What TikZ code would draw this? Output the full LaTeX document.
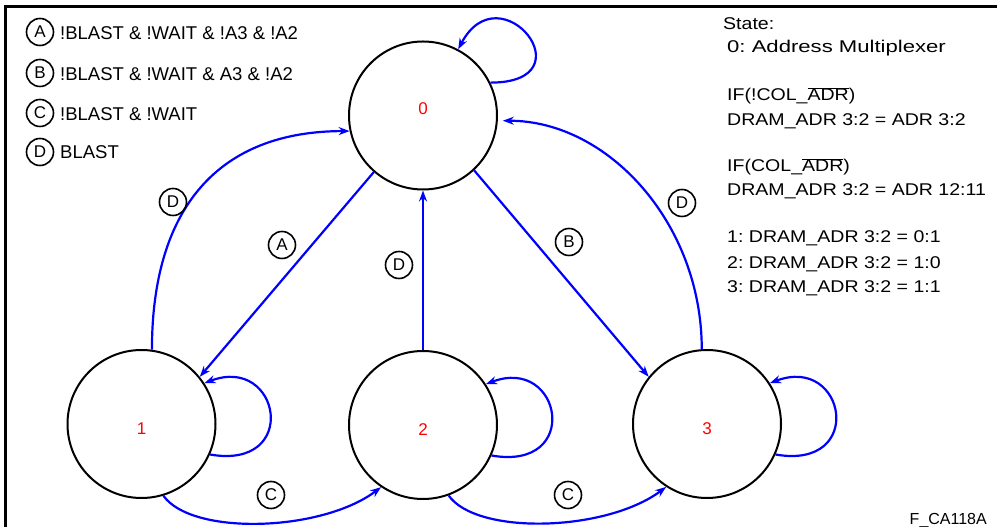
\documentclass[tikz,border=0pt]{standalone}
\usepackage{fontspec}
\setmainfont{Liberation Sans}
\newfontfamily\notefont[FakeStretch=1.15]{Liberation Sans}
\newfontfamily\notefontwide[FakeStretch=1.3]{Liberation Sans}
\usetikzlibrary{arrows.meta}
\definecolor{pureblue}{RGB}{0,0,255}
\definecolor{purered}{RGB}{255,0,0}
\newcommand{\fsz}[1]{\fontsize{#1}{#1}\selectfont}
\frenchspacing
\tikzset{
  statenode/.style={circle, draw=black, line width=2pt, minimum size=148pt, inner sep=0pt, text=purered, font=\fsz{17}, text height=21pt, text depth=0pt},
  topstate/.style={statenode, text height=0pt, text depth=1pt},
  tagnode/.style={circle, draw=black, line width=1.6pt, minimum size=27pt, inner sep=0pt, font=\fsz{17}},
  flow/.style={draw=pureblue, line width=2.2pt, -{Stealth[length=11pt,width=8pt]}},
  legendtext/.style={anchor=base west, inner sep=0pt, font=\fsz{18.5}},
  notetext/.style={anchor=base west, inner sep=0pt, font=\notefont\fsz{17}},
  frameline/.style={line width=3pt, line cap=rect}
}
\begin{document}
\begin{tikzpicture}[x=1pt,y=1pt]
\useasboundingbox (0,0) rectangle (997,527);
% frame
\draw[frameline] (5.3,-5) -- (5.3,520.5) -- (1002,520.5);

% legend
\node[tagnode] (la) at (40,495) {A};
\node[legendtext] (lta) at (60,487.5) {!BLAST \& !WAIT \& !A3 \& !A2};
\node[tagnode] (lb) at (40,454) {B};
\node[legendtext] (ltb) at (60,446.5) {!BLAST \& !WAIT \& A3 \& !A2};
\node[tagnode] (lc) at (40,414) {C};
\node[legendtext] (ltc) at (60,406.5) {!BLAST \& !WAIT};
\node[tagnode] (ld) at (40,375) {D};
\node[legendtext] (ltd) at (60,368.5) {BLAST};

% notes
\node[notetext] (t1) at (723,497) {State:};
\node[notetext, font=\notefontwide\fsz{17}] (t2) at (727,474) {0: Address Multiplexer};
\node[notetext] (t3) at (727,426) {IF(!COL\_$\overline{\mbox{ADR}}$)};
\node[notetext] (t4) at (727,401) {DRAM\_ADR 3:2 = ADR 3:2};
\node[notetext] (t5) at (727,355) {IF(COL\_$\overline{\mbox{ADR}}$)};
\node[notetext] (t6) at (727,331) {DRAM\_ADR 3:2 = ADR 12:11};
\node[notetext] (t7) at (727,284) {1: DRAM\_ADR 3:2 = 0:1};
\node[notetext] (t8) at (727,258.5) {2: DRAM\_ADR 3:2 = 1:0};
\node[notetext] (t9) at (727,234.5) {3: DRAM\_ADR 3:2 = 1:1};
\node[anchor=base east, inner sep=0pt, font=\fsz{16}] (fig) at (987,2.5) {F\_CA118A};

% states
\node[topstate] (n0) at (423,411.5) {0};
\node[statenode] (n1) at (141.5,103) {1};
\node[statenode] (n2) at (423,102) {2};
\node[statenode] (n3) at (707,103) {3};

% transitions
\draw[flow] (n0.229) -- (n1.39);
\draw[flow] (n0.313) -- (n3.141);
\draw[flow] (n2.north) -- (n0.south);
\draw[flow] (n1.82) .. controls +(0,142) and +(-131,0) .. (n0.192);
\draw[flow, shorten >=5pt] (n3.94) .. controls +(0,126) and +(110,0) .. (n0.-4);
\draw[flow] (n1.-73.5) .. controls +(28,-40) and +(-60,-45) .. (n2.236.5);
\draw[flow] (n2.-70) .. controls +(28,-40) and +(-60,-45) .. (n3.237.5);

% self loops
\draw[flow] (n0.26) .. controls +(100,0) and +(42,80) .. (n0.62);
\draw[flow] (n1.-24) .. controls +(91,-16) and +(76,29) .. (n1.33);
\draw[flow] (n2.-24) .. controls +(91,-16) and +(76,29) .. (n2.33);
\draw[flow] (n3.-24) .. controls +(91,-16) and +(76,29) .. (n3.33);

% edge tags
\node[tagnode] (ed1) at (173,325) {D};
\node[tagnode] (ea) at (282,282) {A};
\node[tagnode] (ed2) at (399,262) {D};
\node[tagnode] (eb) at (569,285) {B};
\node[tagnode] (ed3) at (682,324) {D};
\node[tagnode] (ec1) at (271,32) {C};
\node[tagnode] (ec2) at (568,32) {C};
\end{tikzpicture}
\end{document}
